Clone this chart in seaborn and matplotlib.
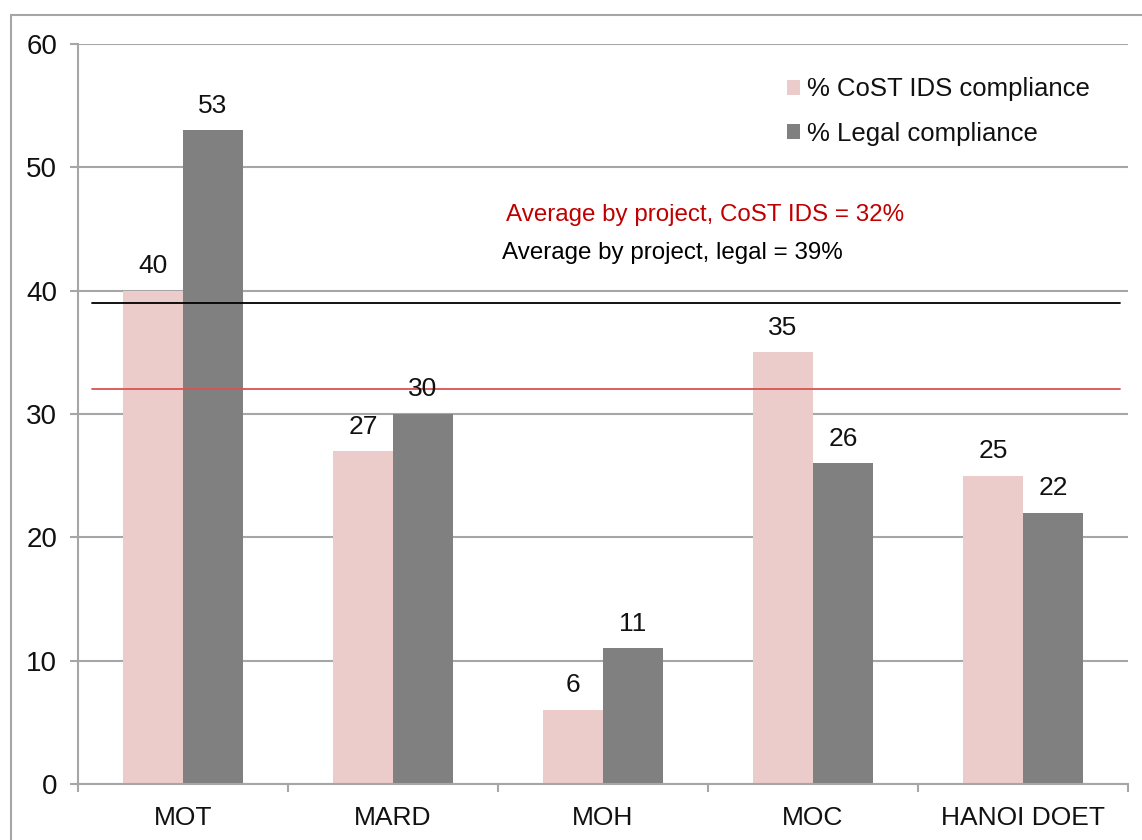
import matplotlib
matplotlib.use("Agg")
import matplotlib.pyplot as plt
import matplotlib.patches as mpatches
from matplotlib.ticker import FixedLocator
import seaborn as sns
import pandas as pd

categories = ["MOT", "MARD", "MOH", "MOC", "HANOI DOET"]
cost_ids = [40, 27, 6, 35, 25]
legal = [53, 30, 11, 26, 22]
series_names = ["% CoST IDS compliance", "% Legal compliance"]
avg_cost_ids = 32
avg_legal = 39
yticks = [0, 10, 20, 30, 40, 50, 60]

pink = "#ECCBCB"
gray = "#808080"
gridc = "#A6A6A6"

sns.set_theme(style="white")
plt.rcParams["font.family"] = ["Liberation Sans", "DejaVu Sans"]

df = pd.DataFrame({
    "category": categories * 2,
    "value": cost_ids + legal,
    "series": [series_names[0]] * len(categories) + [series_names[1]] * len(categories),
})

fig = plt.figure(figsize=(11.42, 8.4), dpi=100)
ax = fig.add_axes([78 / 1142, 1 - 784 / 840, 1050 / 1142, 740 / 840])

sns.barplot(data=df, x="category", y="value", hue="series", order=categories,
            hue_order=series_names, palette=[pink, gray], width=0.57, gap=0,
            saturation=1, ax=ax, legend=False, errorbar=None, linewidth=0,
            edgecolor="none")

for c in ax.containers:
    ax.bar_label(c, fmt="%d", padding=9, fontsize=19, color="#111111")

ax.set_xlim(-0.5, len(categories) - 0.5)
ax.set_ylim(0, 60)
ax.set_yticks(yticks)
ax.yaxis.grid(True, color=gridc, linewidth=1.5)
ax.set_axisbelow(True)
ax.set_xlabel("")
ax.set_ylabel("")

for s in ["top", "right"]:
    ax.spines[s].set_visible(False)
for s in ["left", "bottom"]:
    ax.spines[s].set_color(gridc)
    ax.spines[s].set_linewidth(1.5)

ax.tick_params(axis="y", which="major", length=6, width=1.5, color=gridc,
               direction="out", labelsize=20, pad=9, left=True)
ax.tick_params(axis="x", which="major", length=0, labelsize=19, pad=15.5)
ax.xaxis.set_minor_locator(FixedLocator([i - 0.5 for i in range(len(categories) + 1)]))
ax.tick_params(axis="x", which="minor", length=6, width=1.5, color=gridc,
               direction="out", bottom=True)
for lbl in ax.get_yticklabels() + ax.get_xticklabels():
    lbl.set_color("#111111")

ax.axhline(avg_legal, xmin=0.0133, xmax=0.992, color="black", linewidth=1.3)
ax.axhline(avg_cost_ids, xmin=0.0133, xmax=0.992, color="#D9534F", linewidth=1.3)

ax.text(0.4076, 0.769, f"Average by project, CoST IDS = {avg_cost_ids}%",
        transform=ax.transAxes, color="#C00000", fontsize=17.4, va="center", ha="left")
ax.text(0.404, 0.7176, f"Average by project, legal = {avg_legal}%",
        transform=ax.transAxes, color="black", fontsize=17.4, va="center", ha="left")

handles = [mpatches.Patch(facecolor=pink, edgecolor="none"),
           mpatches.Patch(facecolor=gray, edgecolor="none")]
leg = ax.legend(handles, series_names, loc="upper left", bbox_to_anchor=(0.653, 0.986),
                frameon=False, fontsize=18.5, handlelength=0.5, handleheight=0.5,
                handletextpad=0.3, labelspacing=0.78)
for t in leg.get_texts():
    t.set_color("#111111")

frame = mpatches.Rectangle((11 / 1142, -0.1), 2, 1 - 15 / 840 + 0.1,
                           transform=fig.transFigure, fill=False,
                           edgecolor=gridc, linewidth=1.5, clip_on=False)
fig.patches.append(frame)

fig.savefig("out.png", dpi=100, facecolor="white")
